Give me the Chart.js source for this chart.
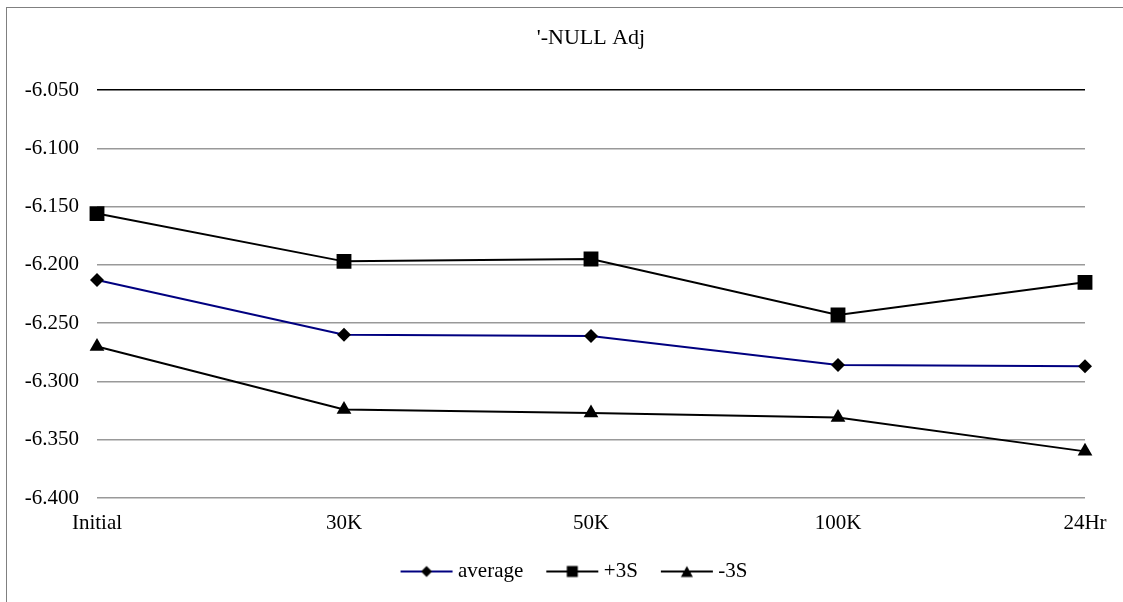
<!DOCTYPE html>
<html>
<head>
<meta charset="utf-8">
<script src="https://cdn.jsdelivr.net/npm/chart.js@4/dist/chart.umd.min.js"></script>
<style>
html,body{margin:0;padding:0;background:#fff;}
#wrap{width:1123px;height:602px;position:relative;}
</style>
</head>
<body>
<div id="wrap"><canvas id="c" width="1123" height="602"></canvas></div>
<script>
const categories = ['Initial', '30K', '50K', '100K', '24Hr'];
const averageValues = [-6.213, -6.260, -6.261, -6.286, -6.287];
const plus3SValues = [-6.156, -6.197, -6.195, -6.243, -6.215];
const minus3SValues = [-6.270, -6.324, -6.327, -6.331, -6.360];
const seriesNames = ['average', '+3S', '-3S'];
const titleText = "'-NULL Adj";
const yMin = -6.400, yMax = -6.050, yStep = 0.05;

const FONT = "'Liberation Serif', 'Times New Roman', serif";

function legendSymbol(lineColor, shape) {
  const c = document.createElement('canvas');
  c.width = 66; c.height = 14;
  const g = c.getContext('2d');
  const a = 10, cx = a + 26;
  g.strokeStyle = lineColor; g.lineWidth = 2;
  g.beginPath(); g.moveTo(a, 7); g.lineTo(a + 52, 7); g.stroke();
  g.fillStyle = '#000';
  g.beginPath();
  if (shape === 'diamond') {
    g.moveTo(cx, 1.5); g.lineTo(cx + 5.5, 7); g.lineTo(cx, 12.5); g.lineTo(cx - 5.5, 7);
  } else if (shape === 'square') {
    g.rect(cx - 5.5, 1.5, 11, 11);
  } else {
    g.moveTo(cx, 1.5); g.lineTo(cx + 6, 12.5); g.lineTo(cx - 6, 12.5);
  }
  g.closePath(); g.fill();
  return c;
}
const legendImgs = [
  legendSymbol('#000080', 'diamond'),
  legendSymbol('#000000', 'square'),
  legendSymbol('#000000', 'triangle')
];

const framePlugin = {
  id: 'frame',
  beforeDraw(chart) {
    const ctx = chart.ctx;
    ctx.save();
    ctx.fillStyle = '#fff';
    ctx.fillRect(0, 0, chart.width, chart.height);
    ctx.strokeStyle = '#808080';
    ctx.lineWidth = 1;
    ctx.strokeRect(6.5, 7.5, 3000, 3000);
    ctx.restore();
  }
};

new Chart(document.getElementById('c'), {
  type: 'line',
  data: {
    labels: categories,
    datasets: [
      { label: seriesNames[0], data: averageValues, borderColor: '#000080', backgroundColor: '#000', borderWidth: 2,
        pointStyle: 'rectRot', pointRadius: 7, pointBackgroundColor: '#000', pointBorderColor: '#000', pointBorderWidth: 0, tension: 0 },
      { label: seriesNames[1], data: plus3SValues, borderColor: '#000', backgroundColor: '#000', borderWidth: 2,
        pointStyle: 'rect', pointRadius: 10.5, pointBackgroundColor: '#000', pointBorderColor: '#000', pointBorderWidth: 0, tension: 0 },
      { label: seriesNames[2], data: minus3SValues, borderColor: '#000', backgroundColor: '#000', borderWidth: 2,
        pointStyle: 'triangle', pointRadius: 8.5, pointBackgroundColor: '#000', pointBorderColor: '#000', pointBorderWidth: 0, tension: 0 }
    ]
  },
  options: {
    responsive: false,
    animation: false,
    devicePixelRatio: 1,
    layout: { padding: { left: 24, right: 0, top: 0, bottom: 10 } },
    plugins: {
      title: { display: true, fullSize: false, text: titleText, color: '#000', font: { family: FONT, size: 22, weight: 'normal' }, padding: { top: 25, bottom: 38.6 } },
      tooltip: { enabled: false },
      legend: {
        position: 'bottom',
        labels: {
          color: '#000',
          font: { family: FONT, size: 21 },
          usePointStyle: true,
          pointStyleWidth: 48,
          boxHeight: 14,
          padding: 22,
          generateLabels(chart) {
            return chart.data.datasets.map((ds, i) => ({
              text: ds.label, pointStyle: legendImgs[i], fillStyle: '#000', strokeStyle: '#000',
              lineWidth: 0, hidden: false, datasetIndex: i, fontColor: '#000'
            }));
          }
        }
      }
    },
    scales: {
      x: {
        offset: false,
        grid: { display: false, drawTicks: false },
        border: { display: false },
        ticks: { color: '#000', font: { family: FONT, size: 21 }, padding: 13, maxRotation: 0, autoSkip: false },
        afterFit(s) { s.height = 41; }
      },
      y: {
        min: yMin, max: yMax,
        grid: {
          drawTicks: false,
          color: (ctx) => (ctx.tick && Math.abs(ctx.tick.value - yMax) < 1e-9) ? '#000' : '#999',
          lineWidth: 1.5
        },
        border: { display: false },
        ticks: {
          stepSize: yStep, color: '#000', font: { family: FONT, size: 21 }, padding: 18,
          callback: (v) => Number(v).toFixed(3)
        },
        afterFit(s) { s.width = 73; }
      },
      yRightSpace: {
        position: 'right',
        display: true,
        grid: { display: false, drawTicks: false },
        border: { display: false },
        ticks: { display: false },
        afterFit(s) { s.width = 38; }
      }
    }
  },
  plugins: [framePlugin]
});
</script>
</body>
</html>
